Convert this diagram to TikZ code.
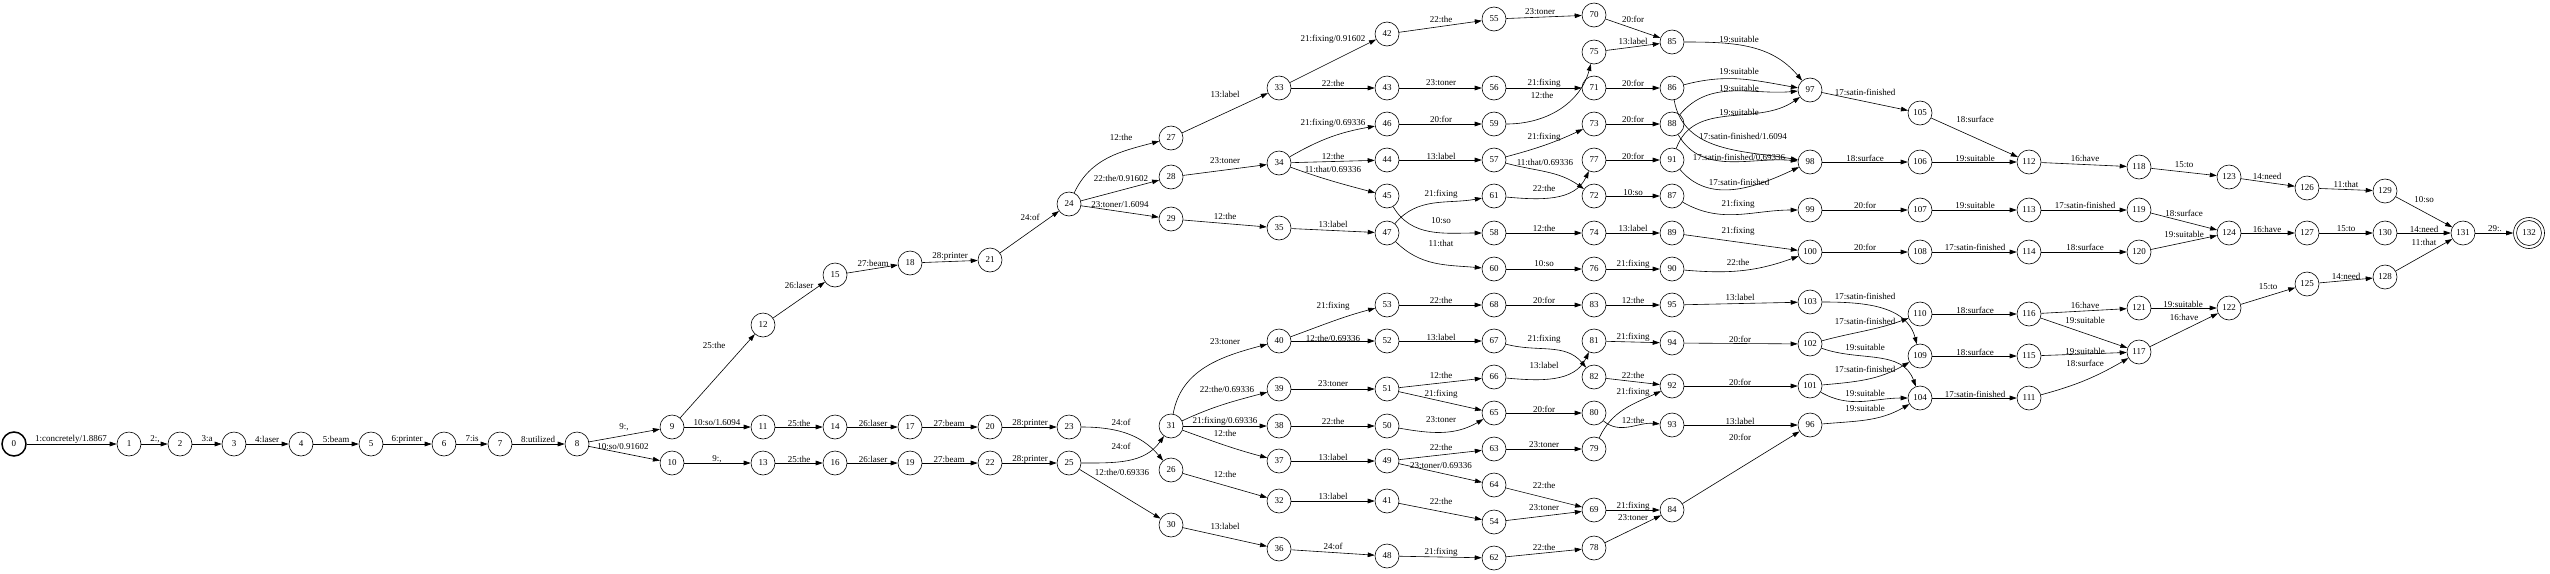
\documentclass[tikz,border=0pt]{standalone}
\usepackage{fontspec}
\setmainfont{Liberation Serif}
\usetikzlibrary{arrows.meta}
\newcommand\nd[3]{\node[st] (#1) at (#2,-#3) {#1};}
\newcommand\ed[6][]{\draw[e] (#2) to[#1] (#3) node[lab] at (#4,-#5) {#6};}
\begin{document}
\begin{tikzpicture}[x=1pt,y=1pt,
 st/.style={circle,draw,line width=0.6pt,minimum size=24pt,inner sep=0pt,font=\fontsize{9}{10}\selectfont},
 e/.style={line width=0.6pt,-{Triangle[length=7pt,width=4.6pt]}},
 lab/.style={inner sep=0pt,font=\fontsize{9}{10}\selectfont}]
\useasboundingbox (0,0) rectangle (2550,-573);
\node[st,line width=1.5pt] (0) at (14,-444) {0};
\nd{1}{129}{444}\nd{2}{180}{444}\nd{3}{234}{444}\nd{4}{301}{444}\nd{5}{371}{444}
\nd{6}{444}{444}\nd{7}{500}{444}\nd{8}{577}{444}\nd{9}{672}{427}\nd{10}{672}{463}
\nd{11}{763}{427}\nd{12}{763}{325}\nd{13}{763}{463}\nd{14}{835}{427}\nd{15}{835}{275}
\nd{16}{835}{463}\nd{17}{910}{427}\nd{18}{910}{263}\nd{19}{910}{463}\nd{20}{990}{427}
\nd{21}{990}{260}\nd{22}{990}{463}\nd{23}{1069}{427}\nd{24}{1069}{204}\nd{25}{1069}{463}
\nd{26}{1171}{470}\nd{27}{1171}{138}\nd{28}{1171}{177}\nd{29}{1171}{219}\nd{30}{1171}{525}
\nd{31}{1171}{426}\nd{32}{1279}{501}\nd{33}{1279}{88}\nd{34}{1279}{163}\nd{35}{1279}{228}
\nd{36}{1279}{549}\nd{37}{1279}{461}\nd{38}{1279}{426}\nd{39}{1279}{389}\nd{40}{1279}{341}
\nd{41}{1387}{501}\nd{42}{1387}{34}\nd{43}{1387}{88}\nd{44}{1387}{160}\nd{45}{1387}{196}
\nd{46}{1387}{124}\nd{47}{1387}{233}\nd{48}{1387}{556}\nd{49}{1387}{461}\nd{50}{1387}{426}
\nd{51}{1387}{389}\nd{52}{1387}{341}\nd{53}{1387}{305}\nd{54}{1494}{522}\nd{55}{1494}{19}
\nd{56}{1494}{88}\nd{57}{1494}{160}\nd{58}{1494}{233}\nd{59}{1494}{124}\nd{60}{1494}{269}
\nd{61}{1494}{196}\nd{62}{1494}{558}\nd{63}{1494}{449}\nd{64}{1494}{485}\nd{65}{1494}{413}
\nd{66}{1494}{377}\nd{67}{1494}{341}\nd{68}{1494}{305}\nd{69}{1594}{510}\nd{70}{1594}{15}
\nd{71}{1594}{88}\nd{72}{1594}{196}\nd{73}{1594}{124}\nd{74}{1594}{233}\nd{75}{1594}{52}
\nd{76}{1594}{269}\nd{77}{1594}{160}\nd{78}{1594}{548}\nd{79}{1594}{449}\nd{80}{1594}{413}
\nd{81}{1594}{341}\nd{82}{1594}{377}\nd{83}{1594}{305}\nd{84}{1672}{510}\nd{85}{1672}{42}
\nd{86}{1672}{88}\nd{87}{1672}{196}\nd{88}{1672}{124}\nd{89}{1672}{233}\nd{90}{1672}{269}
\nd{91}{1672}{160}\nd{92}{1672}{386}\nd{93}{1672}{425}\nd{94}{1672}{343}\nd{95}{1672}{305}
\nd{96}{1810}{425}\nd{97}{1810}{90}\nd{98}{1810}{162}\nd{99}{1810}{210}\nd{100}{1810}{252}
\nd{101}{1810}{386}\nd{102}{1810}{344}\nd{103}{1810}{302}\nd{104}{1920}{398}\nd{105}{1920}{113}
\nd{106}{1920}{162}\nd{107}{1920}{210}\nd{108}{1920}{252}\nd{109}{1920}{356}\nd{110}{1920}{314}
\nd{111}{2029}{398}\nd{112}{2029}{162}\nd{113}{2029}{210}\nd{114}{2029}{252}\nd{115}{2029}{356}
\nd{116}{2029}{314}\nd{117}{2139}{352}\nd{118}{2139}{167}\nd{119}{2139}{210}\nd{120}{2139}{252}
\nd{121}{2139}{308}\nd{122}{2229}{308}\nd{123}{2229}{177}\nd{124}{2229}{233}\nd{125}{2307}{284}
\nd{126}{2307}{188}\nd{127}{2307}{233}\nd{128}{2385}{277}\nd{129}{2385}{191}\nd{130}{2385}{233}
\nd{131}{2463}{233}
\node[st,minimum size=25pt] (132) at (2529,-233) {132};
\node[circle,draw,line width=0.6pt,minimum size=31pt,inner sep=0pt] (132o) at (132) {};
\ed{0}{1}{71}{439}{1:concretely/1.8867}
\ed{1}{2}{155}{439}{2:,}
\ed{2}{3}{207}{439}{3:a}
\ed{3}{4}{267}{439}{4:laser}
\ed{4}{5}{336}{439}{5:beam}
\ed{5}{6}{407}{439}{6:printer}
\ed{6}{7}{472}{439}{7:is}
\ed{7}{8}{538}{439}{8:utilized}
\ed{8}{9}{624}{427}{9:,}
\ed{8}{10}{623}{447}{10:so/0.91602}
\ed{9}{12}{714}{345}{25:the}
\ed{9}{11}{717}{423}{10:so/1.6094}
\ed{10}{13}{717}{459}{9:,}
\ed{11}{14}{799}{423}{25:the}
\ed{13}{16}{799}{459}{25:the}
\ed{12}{15}{799}{285}{26:laser}
\ed{14}{17}{873}{423}{26:laser}
\ed{16}{19}{873}{459}{26:laser}
\ed{15}{18}{873}{263}{27:beam}
\ed{17}{20}{949}{423}{27:beam}
\ed{19}{22}{949}{459}{27:beam}
\ed{18}{21}{950}{256}{28:printer}
\ed{20}{23}{1030}{423}{28:printer}
\ed{22}{25}{1030}{459}{28:printer}
\ed{21}{24}{1030}{217}{24:of}
\ed[out=0,in=130]{23}{26}{1121}{422}{24:of}
\ed[out=0,in=235]{25}{31}{1121}{446}{24:of}
\ed{25}{30}{1122}{472}{12:the/0.69336}
\ed[out=65,in=195]{24}{27}{1121}{137}{12:the}
\ed{24}{28}{1121}{178}{22:the/0.91602}
\ed{24}{29}{1120}{205}{23:toner/1.6094}
\ed{27}{33}{1225}{94}{13:label}
\ed{28}{34}{1225}{161}{23:toner}
\ed{29}{35}{1225}{216}{12:the}
\ed{33}{42}{1333}{39}{21:fixing/0.91602}
\ed{33}{43}{1333}{83}{22:the}
\ed[out=30,in=190]{34}{46}{1333}{123}{21:fixing/0.69336}
\ed{34}{44}{1333}{156}{12:the}
\ed[out=-20,in=165]{34}{45}{1333}{169}{11:that/0.69336}
\ed{35}{47}{1333}{224}{13:label}
\ed[out=80,in=195]{31}{40}{1225}{342}{23:toner}
\ed[out=25,in=195]{31}{39}{1227}{389}{22:the/0.69336}
\ed{31}{38}{1225}{421}{21:fixing/0.69336}
\ed[out=-20,in=165]{31}{37}{1225}{433}{12:the}
\ed{26}{32}{1225}{474}{12:the}
\ed{30}{36}{1225}{526}{13:label}
\ed[out=20,in=195]{40}{53}{1333}{306}{21:fixing}
\ed{40}{52}{1333}{338}{12:the/0.69336}
\ed{39}{51}{1333}{384}{23:toner}
\ed{38}{50}{1333}{421}{22:the}
\ed{37}{49}{1333}{457}{13:label}
\ed{32}{41}{1333}{496}{13:label}
\ed{36}{48}{1333}{546}{24:of}
\ed{42}{55}{1441}{19}{22:the}
\ed{43}{56}{1441}{83}{23:toner}
\ed{46}{59}{1441}{119}{20:for}
\ed{44}{57}{1441}{156}{13:label}
\ed[out=-60,in=180]{45}{58}{1441}{221}{10:so}
\ed[out=50,in=190]{47}{61}{1441}{194}{21:fixing}
\ed[out=-45,in=175]{47}{60}{1441}{243}{11:that}
\ed{55}{70}{1540}{12}{23:toner}
\ed{56}{71}{1544}{83}{21:fixing}
\ed[out=0,in=255]{59}{75}{1542}{95}{12:the}
\ed[out=15,in=205]{57}{73}{1544}{137}{21:fixing}
\ed[out=-15,in=145]{57}{72}{1545}{162}{11:that/0.69336}
\ed[out=-5,in=245]{61}{77}{1544}{188}{22:the}
\ed{58}{74}{1544}{228}{12:the}
\ed{60}{76}{1544}{264}{10:so}
\ed{70}{85}{1633}{19}{20:for}
\ed{75}{85}{1633}{41}{13:label}
\ed{71}{86}{1633}{83}{20:for}
\ed{73}{88}{1633}{119}{20:for}
\ed{77}{91}{1633}{156}{20:for}
\ed{72}{87}{1633}{193}{10:so}
\ed{74}{89}{1633}{228}{13:label}
\ed{76}{90}{1633}{264}{21:fixing}
\ed[out=0,in=130]{85}{97}{1739}{39}{19:suitable}
\ed[out=15,in=170]{86}{97}{1739}{71}{19:suitable}
\ed[out=50,in=185]{88}{97}{1739}{88}{19:suitable}
\ed[out=70,in=215]{91}{97}{1739}{112}{19:suitable}
\ed[out=-80,in=170]{86}{98}{1743}{136}{17:satin-finished/1.6094}
\ed[out=-60,in=175]{88}{98}{1739}{157}{17:satin-finished/0.69336}
\ed[out=-50,in=205]{91}{98}{1739}{182}{17:satin-finished}
\ed[out=-30,in=180]{87}{99}{1738}{204}{21:fixing}
\ed{89}{100}{1738}{231}{21:fixing}
\ed[out=-5,in=200]{90}{100}{1738}{262}{22:the}
\ed{53}{68}{1441}{300}{22:the}
\ed{68}{83}{1544}{300}{20:for}
\ed{83}{95}{1633}{300}{12:the}
\ed{95}{103}{1740}{297}{13:label}
\ed{52}{67}{1441}{337}{13:label}
\ed[out=-15,in=130]{67}{82}{1544}{339}{21:fixing}
\ed{81}{94}{1633}{337}{21:fixing}
\ed{94}{102}{1740}{339}{20:for}
\ed[out=-5,in=245]{66}{81}{1544}{365}{13:label}
\ed{51}{66}{1441}{375}{12:the}
\ed{82}{92}{1633}{375}{22:the}
\ed{92}{101}{1740}{382}{20:for}
\ed{51}{65}{1441}{394}{21:fixing}
\ed[out=65,in=205]{79}{92}{1633}{392}{21:fixing}
\ed{65}{80}{1544}{409}{20:for}
\ed[out=-10,in=210]{50}{65}{1441}{420}{23:toner}
\ed[out=-40,in=175]{80}{93}{1633}{420}{12:the}
\ed{93}{96}{1740}{421}{13:label}
\ed{84}{96}{1740}{437}{20:for}
\ed{49}{63}{1441}{447}{22:the}
\ed{63}{79}{1544}{445}{23:toner}
\ed{49}{64}{1441}{466}{23:toner/0.69336}
\ed{64}{69}{1544}{485}{22:the}
\ed{41}{54}{1441}{501}{22:the}
\ed{54}{69}{1544}{508}{23:toner}
\ed{69}{84}{1633}{506}{21:fixing}
\ed{78}{84}{1633}{518}{23:toner}
\ed{48}{62}{1441}{552}{21:fixing}
\ed{62}{78}{1544}{547}{22:the}
\ed{97}{105}{1865}{92}{17:satin-finished}
\ed{105}{112}{1975}{119}{18:surface}
\ed{98}{106}{1865}{158}{18:surface}
\ed{106}{112}{1975}{158}{19:suitable}
\ed{112}{118}{2085}{158}{16:have}
\ed{118}{123}{2184}{165}{15:to}
\ed{99}{107}{1865}{205}{20:for}
\ed{107}{113}{1975}{205}{19:suitable}
\ed{113}{119}{2085}{205}{17:satin-finished}
\ed{119}{124}{2184}{213}{18:surface}
\ed{100}{108}{1865}{247}{20:for}
\ed{108}{114}{1975}{247}{17:satin-finished}
\ed{114}{120}{2085}{247}{18:surface}
\ed{120}{124}{2184}{234}{19:suitable}
\ed[out=0,in=105]{103}{109}{1865}{296}{17:satin-finished}
\ed[out=15,in=200]{102}{110}{1865}{321}{17:satin-finished}
\ed[out=-20,in=110]{102}{104}{1865}{347}{19:suitable}
\ed[out=5,in=210]{101}{109}{1865}{369}{17:satin-finished}
\ed[out=-30,in=180]{101}{104}{1865}{393}{19:suitable}
\ed[out=5,in=210]{96}{104}{1865}{408}{19:suitable}
\ed{110}{116}{1975}{310}{18:surface}
\ed{109}{115}{1975}{352}{18:surface}
\ed{104}{111}{1975}{394}{17:satin-finished}
\ed{116}{121}{2085}{305}{16:have}
\ed{116}{117}{2085}{320}{19:suitable}
\ed{115}{117}{2085}{351}{19:suitable}
\ed[out=15,in=210]{111}{117}{2085}{363}{18:surface}
\ed{121}{122}{2183}{304}{19:suitable}
\ed{117}{122}{2184}{317}{16:have}
\ed{122}{125}{2268}{287}{15:to}
\ed{125}{128}{2346}{276}{14:need}
\ed{128}{131}{2424}{242}{11:that}
\ed{123}{126}{2267}{176}{14:need}
\ed{124}{127}{2267}{229}{16:have}
\ed{126}{129}{2346}{184}{11:that}
\ed{127}{130}{2346}{229}{15:to}
\ed{129}{131}{2424}{200}{10:so}
\ed{130}{131}{2424}{229}{14:need}
\ed{131}{132o}{2495}{229}{29:.}
\end{tikzpicture}
\end{document}
